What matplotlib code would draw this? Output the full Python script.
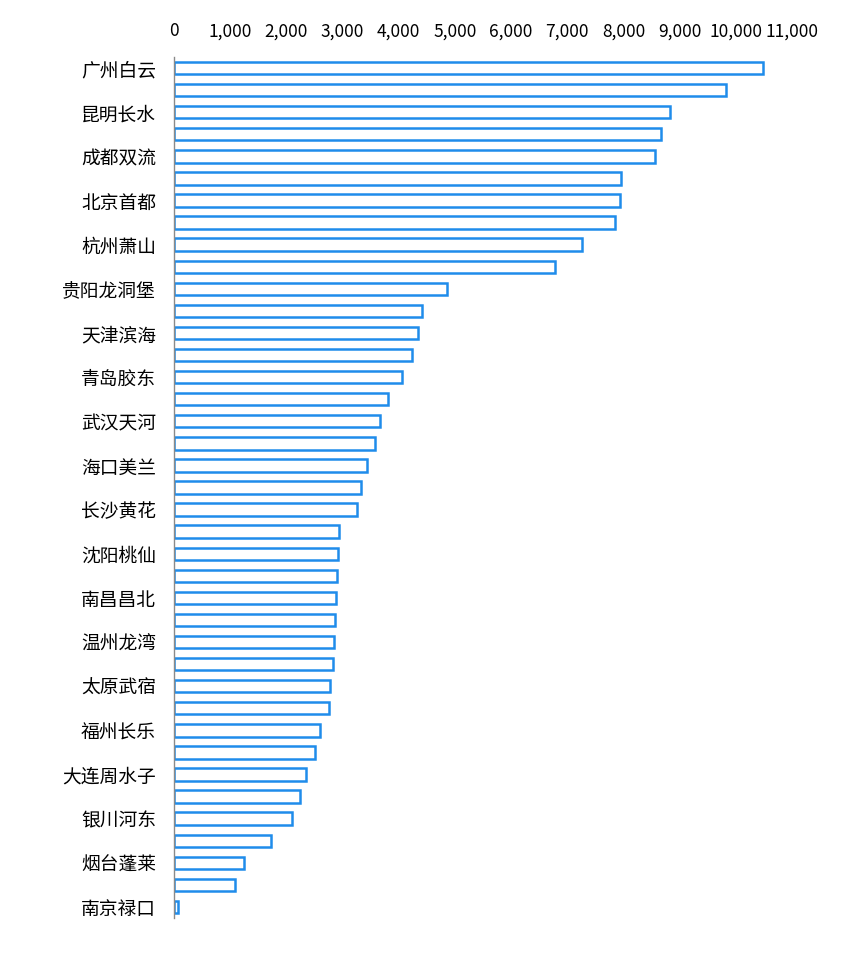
import matplotlib
matplotlib.use("Agg")
import matplotlib.pyplot as plt
from matplotlib.ticker import FuncFormatter

plt.rcParams['font.family'] = ['Noto Sans CJK SC', 'DejaVu Sans']

# airports, top to bottom; only every other name is shown on the axis
airports = [
    "广州白云", "", "昆明长水", "", "成都双流", "", "北京首都", "",
    "杭州萧山", "", "贵阳龙洞堡", "", "天津滨海", "", "青岛胶东", "",
    "武汉天河", "", "海口美兰", "", "长沙黄花", "", "沈阳桃仙", "",
    "南昌昌北", "", "温州龙湾", "", "太原武宿", "", "福州长乐", "",
    "大连周水子", "", "银川河东", "", "烟台蓬莱", "", "南京禄口",
]
values = [
    10480, 9830, 8830, 8670, 8560, 7960, 7940, 7850,
    7260, 6780, 4860, 4410, 4340, 4240, 4060, 3810,
    3670, 3580, 3440, 3330, 3260, 2940, 2920, 2900,
    2880, 2870, 2850, 2830, 2780, 2760, 2600, 2510,
    2350, 2240, 2100, 1730, 1250, 1090, 70,
]
xticks = list(range(0, 12000, 1000))

fig = plt.figure(figsize=(8.65, 9.58), dpi=100)
ax = fig.add_axes([174 / 865, 1 - 918 / 958, (792 - 174) / 865, (918 - 57) / 958])

pos = list(range(len(values)))
ax.barh(pos, values, height=0.56, color="white", edgecolor="#1f8ceb", linewidth=1.8)

ax.set_ylim(len(values) - 0.5, -0.5)
ax.set_xlim(0, 11000)
ax.set_yticks(pos[::2])
ax.set_yticklabels(airports[::2], fontsize=13.5)
ax.set_xticks(xticks)
ax.xaxis.set_major_formatter(FuncFormatter(lambda v, p: f"{int(v):,}"))
ax.xaxis.tick_top()
ax.tick_params(axis="x", length=0, pad=12, labelsize=12.5)
ax.tick_params(axis="y", length=0, pad=13)

for s in ["top", "right", "bottom"]:
    ax.spines[s].set_visible(False)
ax.spines["left"].set_color("#8a8a8a")
ax.spines["left"].set_linewidth(1)

fig.savefig("out.png", dpi=100, facecolor="white")
